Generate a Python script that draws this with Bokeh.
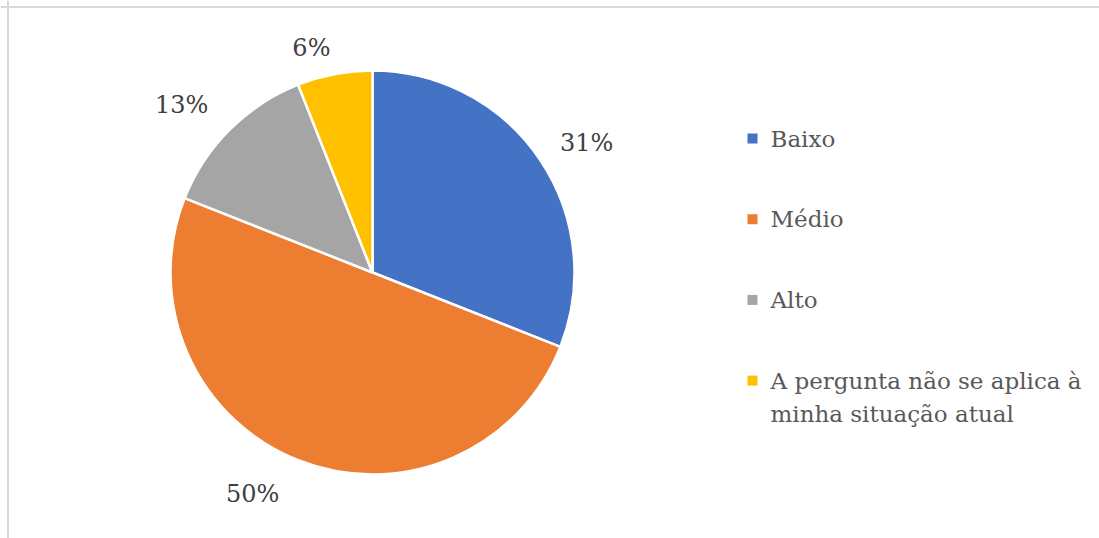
import math
from bokeh.plotting import figure
from bokeh.models import ColumnDataSource, Range1d, Span
from bokeh.core.properties import value
from bokeh.embed import file_html
from bokeh.resources import INLINE

# ---- data ----
categories = ["Baixo", "Médio", "Alto", "A pergunta não se aplica à\nminha situação atual"]
percent = [31, 50, 13, 6]
colors = ["#4472C4", "#ED7D31", "#A5A5A5", "#FFC000"]

# ---- layout ----
W, H = 1099, 538
cx, cy, R = 372, 266, 202
label_r = [250, 252, 254, 233]
label_nudge_deg = [-3.1, -6.8, 3.7, 4.4]
FONT = "DejaVu Serif"
FS_LABEL = 24
FS_LEGEND = 23

p = figure(width=W, height=H, x_range=Range1d(0, W), y_range=Range1d(0, H),
           output_backend="svg", toolbar_location=None, min_border=0,
           outline_line_color=None)
p.axis.visible = False
p.grid.visible = False
p.background_fill_color = "white"
p.border_fill_color = "white"

total = float(sum(percent))
starts, ends, mids = [], [], []
cum = 0.0
for v in percent:
    a0 = math.pi / 2 - 2 * math.pi * cum / total
    cum += v
    a1 = math.pi / 2 - 2 * math.pi * cum / total
    starts.append(a0)
    ends.append(a1)
    mids.append((a0 + a1) / 2)

src = ColumnDataSource(dict(start=starts, end=ends, color=colors,
                            x=[cx] * len(percent), y=[cy] * len(percent)))
p.wedge(x="x", y="y", radius=R, start_angle="start", end_angle="end",
        direction="clock", fill_color="color", line_color="white", line_width=2.5,
        source=src)

# percent labels
lx, ly, lt = [], [], []
for i, v in enumerate(percent):
    a = mids[i] + math.radians(label_nudge_deg[i])
    lx.append(cx + label_r[i] * math.cos(a))
    ly.append(cy + label_r[i] * math.sin(a))
    lt.append(f"{v}%")
p.text(x=lx, y=ly, text=lt, text_font=value(FONT), text_font_size=f"{FS_LABEL}px",
       text_color="#404040", text_align="center", text_baseline="middle")

# legend (drawn manually)
leg_x, leg_top, leg_step, line_h = 752, 400, 80.7, 33
sq_x, sq_y, sq_c = [], [], []
tx, ty, tt = [], [], []
for i, c in enumerate(categories):
    yc = leg_top - i * leg_step
    sq_x.append(leg_x)
    sq_y.append(yc)
    sq_c.append(colors[i])
    for j, line in enumerate(c.split("\n")):
        tx.append(leg_x + 18)
        ty.append(yc - j * line_h)
        tt.append(line)
p.scatter(x=sq_x, y=sq_y, marker="square", size=10, fill_color=sq_c, line_color=None)
p.text(x=tx, y=ty, text=tt, text_font=value(FONT), text_font_size=f"{FS_LEGEND}px",
       text_color="#595959", text_align="left", text_baseline="middle")

# chart-area border (top and left visible; right/bottom run off the picture)
p.add_layout(Span(location=531.5, dimension="width", line_color="#d9d9d9", line_width=2))
p.add_layout(Span(location=7.5, dimension="height", line_color="#d9d9d9", line_width=2))

open("out.html", "w").write(file_html(p, INLINE))
